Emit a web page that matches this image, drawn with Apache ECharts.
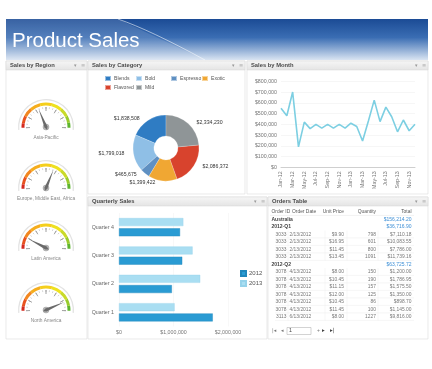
<!DOCTYPE html>
<html><head><meta charset="utf-8">
<script src="https://cdn.jsdelivr.net/npm/echarts@6/dist/echarts.min.js"></script>
<style>html,body{margin:0;padding:0;background:#fff}#c{width:432px;height:369px}</style>
</head><body><div id="c"></div>
<script>
// ---------- data ----------
const regionNames = ['Asia-Pacific', 'Europe, Middle East, Africa', 'Latin America', 'North America'];
const regionValues = [38, 62, 16, 86];

const categoryNames = ['Blends', 'Bold', 'Espresso', 'Exotic', 'Flavored', 'Mild'];
const categoryValues = [1838508, 1799018, 465675, 1399422, 2086372, 2334230];

const monthLabels = ['Jan-12','Feb-12','Mar-12','Apr-12','May-12','Jun-12','Jul-12','Aug-12','Sep-12','Oct-12','Nov-12','Dec-12',
                     'Jan-13','Feb-13','Mar-13','Apr-13','May-13','Jun-13','Jul-13','Aug-13','Sep-13','Oct-13','Nov-13','Dec-13'];
const monthValues = [550000, 480000, 700000, 190000, 420000, 360000, 400000, 365000, 400000, 365000, 400000, 365000,
                     410000, 380000, 245000, 430000, 625000, 425000, 560000, 470000, 330000, 440000, 340000, 400000];

const quarterNames = ['Quarter 1', 'Quarter 2', 'Quarter 3', 'Quarter 4'];
const sales2012 = [1720000, 970000, 1160000, 1120000];
const sales2013 = [1020000, 1490000, 1350000, 1180000];

const tableColumns = ['Order ID', 'Order Date', 'Unit Price', 'Quantity', 'Total'];
const orderRows = [
  ['group', 'Australia', '$156,214.20'],
  ['group', '2012-Q1', '$36,716.90'],
  ['row', '3033', '2/13/2012', '$9.90', '798', '$7,110.18'],
  ['row', '3033', '2/13/2012', '$16.95', '601', '$10,083.55'],
  ['row', '3033', '2/13/2012', '$11.45', '800', '$7,786.00'],
  ['row', '3033', '2/13/2012', '$13.45', '1091', '$11,739.16'],
  ['group', '2012-Q2', '$63,725.72'],
  ['row', '3078', '4/13/2012', '$8.00', '150', '$1,200.00'],
  ['row', '3078', '4/13/2012', '$10.45', '190', '$1,786.95'],
  ['row', '3078', '4/13/2012', '$11.15', '157', '$1,575.50'],
  ['row', '3078', '4/13/2012', '$12.00', '125', '$1,350.00'],
  ['row', '3078', '4/13/2012', '$10.45', '86', '$898.70'],
  ['row', '3078', '4/13/2012', '$11.45', '100', '$1,145.00'],
  ['row', '3113', '6/13/2012', '$8.00', '1227', '$9,816.00']
];

// ---------- styling / layout ----------
const FONT = '"Liberation Sans", Arial, sans-serif';
const catColors = ['#2f7cc3', '#8fbfe6', '#5f90c2', '#f0a733', '#d8432d', '#8f9597'];
const bandColors = [[0.06,'#d42a1f'],[0.16,'#e8521f'],[0.28,'#f2861f'],[0.42,'#f5ad1d'],[0.58,'#f5cf1c'],[0.72,'#eee21f'],[0.84,'#c9da2a'],[0.93,'#98cb2d'],[1,'#5db52e']];
const gaugeCy = [127, 188, 248, 310];
const money = v => '$' + v.toLocaleString('en-US');

const graphics = [];
function txt(x, y, s, opt) {
  opt = opt || {};
  graphics.push({type:'text', x, y, z: opt.z || 5, style:{text:s, fill: opt.fill || '#666',
    font: (opt.weight||'normal') + ' ' + (opt.size||5.5) + 'px ' + (opt.family||FONT),
    textAlign: opt.align || 'left', align: opt.align || 'left', textVerticalAlign:'middle', verticalAlign:'middle'}});
}
function rect(x, y, w, h, fill, stroke, z) {
  graphics.push({type:'rect', shape:{x, y, width:w, height:h}, z: z||0, style:{fill, stroke: stroke||null, lineWidth: stroke?0.6:0}});
}
function line(x1, y1, x2, y2, stroke, z) {
  graphics.push({type:'line', shape:{x1,y1,x2,y2}, z: z||1, style:{stroke, lineWidth:0.5}});
}

// banner
graphics.push({type:'rect', shape:{x:6,y:19,width:422,height:41}, z:0, style:{fill:{type:'linear',x:0,y:0,x2:0,y2:1,colorStops:[
  {offset:0,color:'#1b4b95'},{offset:0.45,color:'#3a6db3'},{offset:1,color:'#d9e4f2'}]}}});
graphics.push({type:'polygon', shape:{points:[[6,19],[118,19],[205,60],[6,60]]}, z:1, style:{fill:'rgba(255,255,255,0.13)'}});
graphics.push({type:'bezierCurve', shape:{x1:118,y1:19,x2:205,y2:60,cpx1:150,cpy1:30}, z:1, style:{stroke:'rgba(255,255,255,0.55)', lineWidth:1, fill:null}});
txt(12, 41, 'Product Sales', {fill:'#ffffff', size:20.5, z:3});

// panels
const panels = [
  {x:6, y:61, w:81, h:278, title:'Sales by Region'},
  {x:88, y:61, w:157, h:133, title:'Sales by Category'},
  {x:247, y:61, w:181, h:133, title:'Sales by Month'},
  {x:88, y:197, w:179, h:142, title:'Quarterly Sales'},
  {x:268, y:197, w:160, h:142, title:'Orders Table'}
];
panels.forEach(p => {
  rect(p.x, p.y, p.w, p.h, '#ffffff', '#dcdcdc', 0);
  graphics.push({type:'rect', shape:{x:p.x, y:p.y, width:p.w, height:9}, z:1, style:{fill:{type:'linear',x:0,y:0,x2:0,y2:1,colorStops:[{offset:0,color:'#f6f6f6'},{offset:1,color:'#e4e4e4'}]}, stroke:'#d6d6d6', lineWidth:0.5}});
  txt(p.x + 4, p.y + 4.6, p.title, {weight:'bold', size:5.8, fill:'#4a4a4a', z:3});
  txt(p.x + p.w - 13, p.y + 4.6, '▾', {size:5, fill:'#999', family:'"DejaVu Sans"', z:3});
  txt(p.x + p.w - 6, p.y + 4.6, '≡', {size:5, fill:'#aaa', family:'"DejaVu Sans"', z:3});
});

// orders table
const colX = [{x:286.5,a:'right'},{x:289.5,a:'left'},{x:344,a:'right'},{x:376,a:'right'},{x:411.5,a:'right'}];
const headX = [{x:271.5,a:'left'},{x:292,a:'left'},{x:344,a:'right'},{x:376,a:'right'},{x:411.5,a:'right'}];
const rowY0 = 211.7, rowStep = 7.5;
tableColumns.forEach((c, i) => txt(headX[i].x, rowY0, c, {align:headX[i].a, size:4.9, fill:'#555', z:3}));
line(270, rowY0 + 3.7, 414, rowY0 + 3.7, '#e2e2e2', 2);
orderRows.forEach((r, k) => {
  const y = rowY0 + rowStep * (k + 1);
  if (r[0] === 'group') {
    txt(271.5, y, r[1], {weight:'bold', size:5, fill:'#444', z:3});
    txt(411.5, y, r[2], {align:'right', size:5, fill:'#3d8fd6', z:3});
  } else {
    for (let i = 0; i < 5; i++) txt(colX[i].x, y, r[i + 1], {align:colX[i].a, size:4.9, fill:'#777', z:3});
    line(275, y + 3.7, 414, y + 3.7, '#ececec', 2);
    [288, 325, 347, 378].forEach(xx => line(xx, y - 3.7, xx, y + 3.7, '#efefef', 2));
  }
});
// pager
txt(272, 331, '|◂', {size:5, fill:'#777', family:'"DejaVu Sans"', z:3});
txt(281, 331, '◂', {size:5, fill:'#777', family:'"DejaVu Sans"', z:3});
rect(287, 327.5, 24, 7, '#ffffff', '#b5b5b5', 2);
txt(289, 331, '1', {size:5.3, fill:'#444', z:3});
txt(317, 331, '+', {size:5, fill:'#777', z:3});
txt(322, 331, '▸', {size:5.5, fill:'#444', family:'"DejaVu Sans"', z:3});
txt(330, 331, '▸|', {size:5.5, fill:'#444', family:'"DejaVu Sans"', z:3});

// ---------- series ----------
const series = [];
regionNames.forEach((name, i) => {
  series.push({type:'gauge', center:[46, gaugeCy[i]], radius:28, startAngle:186, endAngle:-6, min:0, max:100,
    axisLine:{lineStyle:{width:1.3, color:[[1,'#e3e3e3']]}}, axisTick:{show:false}, splitLine:{show:false},
    axisLabel:{show:false}, pointer:{show:false}, anchor:{show:false}, title:{show:false}, detail:{show:false}, data:[{value:0}]});
  series.push({type:'gauge', center:[46, gaugeCy[i]], radius:24.5, startAngle:182, endAngle:-2, min:0, max:100, splitNumber:6,
    axisLine:{lineStyle:{width:3, color:bandColors}},
    axisTick:{distance:1.5, length:1.8, splitNumber:3, lineStyle:{color:'#aaa', width:0.5}},
    splitLine:{distance:1.5, length:4, lineStyle:{color:'#888', width:0.8}},
    axisLabel:{show:false},
    pointer:{length:'82%', width:1.6, itemStyle:{color:'#6a6a6a'}},
    anchor:{show:true, size:6, itemStyle:{color:'#b8b8b8', borderColor:'#9a9a9a', borderWidth:0.5}},
    title:{offsetCenter:[0, 11], fontSize:4.8, color:'#888', fontFamily:FONT},
    detail:{show:false},
    data:[{value:regionValues[i], name}]});
});

series.push({type:'pie', center:[166, 148], radius:[12, 33], startAngle:90, clockwise:false,
  itemStyle:{borderColor:'rgba(255,255,255,0.5)', borderWidth:0.4},
  label:{show:true, position:'outside', formatter:p => money(p.value), fontSize:5.2, color:'#333', fontFamily:FONT},
  labelLine:{show:false, length:2, length2:2},
  data:categoryNames.map((n, i) => ({name:n, value:categoryValues[i], itemStyle:{color:catColors[i]}}))});

series.push({type:'line', xAxisIndex:0, yAxisIndex:0, data:monthValues, showSymbol:false, symbol:'none',
  lineStyle:{color:'#7dcfe2', width:1.6}});

series.push({type:'bar', name:'2013', xAxisIndex:1, yAxisIndex:1, data:sales2013, barWidth:8, barGap:'28%',
  itemStyle:{color:'#a9def2', borderColor:'#95d2ea', borderWidth:0.4}});
series.push({type:'bar', name:'2012', xAxisIndex:1, yAxisIndex:1, data:sales2012, barWidth:8, barGap:'28%',
  itemStyle:{color:'#2a9bd3', borderColor:'#1f86bb', borderWidth:0.4}});

const legendPos = [[104,75],[135,75],[170,75],[201,75],[104,84],[135,84]];
const legends = categoryNames.map((n, i) => ({data:[n], left:legendPos[i][0], top:legendPos[i][1], itemWidth:6, itemHeight:5,
  itemGap:2, padding:0, icon:'rect', selectedMode:false, textStyle:{fontSize:5.1, color:'#555', fontFamily:FONT, padding:[0,0,0,-2]}}));
legends.push({data:['2012','2013'], orient:'vertical', left:240, top:270, itemWidth:5, itemHeight:5, itemGap:3, padding:0,
  icon:'rect', selectedMode:false, textStyle:{fontSize:6, color:'#555', fontFamily:FONT, padding:[0,0,0,-2]}});

const option = {
  animation:false,
  textStyle:{fontFamily:FONT},
  graphic:{elements:graphics},
  legend:legends,
  grid:[
    {left:281, right:17, top:81.3, bottom:201.7, containLabel:false},
    {left:119, right:204, top:213, bottom:42.5, containLabel:false}
  ],
  xAxis:[
    {gridIndex:0, type:'category', data:monthLabels, boundaryGap:false,
      axisLine:{lineStyle:{color:'#cfcfcf'}}, axisTick:{show:false},
      axisLabel:{interval:1, rotate:90, fontSize:5.3, color:'#777', margin:4}},
    {gridIndex:1, type:'value', min:0, max:2000000, interval:1000000,
      axisLine:{show:false}, axisTick:{show:false},
      splitLine:{lineStyle:{color:'#f1f1f1', width:0.5}},
      axisLabel:{fontSize:5.3, color:'#777', margin:4, formatter:v => money(v)}}
  ],
  yAxis:[
    {gridIndex:0, type:'value', min:0, max:800000, interval:100000,
      axisLine:{show:false}, axisTick:{show:false},
      splitLine:{lineStyle:{color:'#ececec', width:0.5}},
      axisLabel:{fontSize:5.3, color:'#777', margin:4, formatter:v => money(v)}},
    {gridIndex:1, type:'category', data:quarterNames,
      axisLine:{show:false}, axisTick:{show:false},
      axisLabel:{fontSize:5.3, color:'#666', margin:5}}
  ],
  series
};
const chart = echarts.init(document.getElementById('c'), null, {renderer:'canvas'});
chart.setOption(option);
</script>
</body></html>
